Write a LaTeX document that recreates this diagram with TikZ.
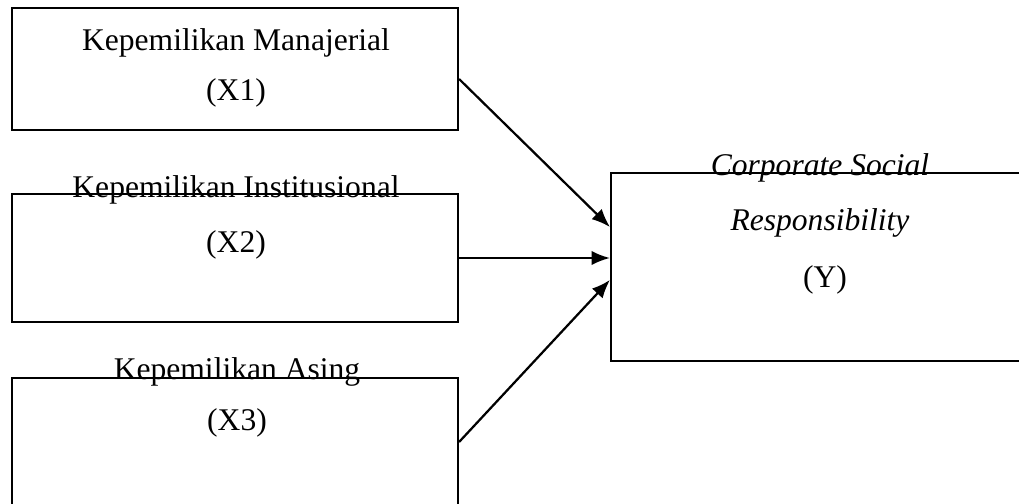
\documentclass[tikz,border=0pt]{standalone}
\usepackage{fontspec}
\setmainfont{Liberation Serif}
\usetikzlibrary{arrows.meta, positioning}

\tikzset{
  varbox/.style={draw, line width=0.8pt, inner sep=0pt, minimum width=169.5pt},
  varlabel/.style={anchor=base, inner sep=0pt, font=\fontsize{12}{14}\selectfont},
  infl/.style={-{Latex[length=7pt, width=5.5pt]}, line width=0.85pt}
}

\begin{document}
\begin{tikzpicture}[x=0.38pt, y=-0.38pt]
  \useasboundingbox (0,0) rectangle (1019,503);
  \clip (0,0) rectangle (1019,503);

  %--- independent variables ---
  \node[varbox, minimum height=46.4pt] (x1) at (235,69) {};
  \node[varbox, minimum height=48.6pt] (x2) at (235,258) {};
  \node[varbox, minimum height=48.6pt] (x3) at (235,442) {};

  %--- dependent variable ---
  \node[varbox, minimum width=159.6pt, minimum height=71.4pt] (y) at (821,267) {};

  %--- labels ---
  \node[varlabel] (x1name) at (236,50) {Kepemilikan Manajerial};
  \node[varlabel] (x1code) at (236,100) {(X1)};
  \node[varlabel] (x2name) at (236,197) {Kepemilikan Institusional};
  \node[varlabel] (x2code) at (236,252) {(X2)};
  \node[varlabel] (x3name) at (237,379) {Kepemilikan Asing};
  \node[varlabel] (x3code) at (237,430) {(X3)};
  \node[varlabel] (ycorp) at (820,175) {\textit{Corporate Social}};
  \node[varlabel] (yresp) at (820,230) {\textit{Responsibility}};
  \node[varlabel] (ycode) at (825,287) {(Y)};

  %--- influence arrows ---
  \draw[infl] ([yshift=-3.8pt]x1.east) -- ([yshift=15.2pt]y.west);
  \draw[infl] (x2.east) -- (x2.east -| y.west);
  \draw[infl] (x3.east) -- ([yshift=-4.9pt]y.west);
\end{tikzpicture}
\end{document}
